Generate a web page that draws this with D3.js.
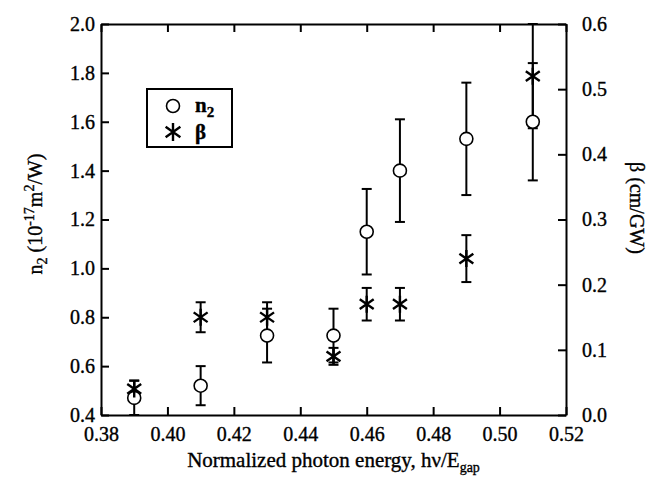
<!DOCTYPE html>
<html>
<head>
<meta charset="utf-8">
<script src="https://d3js.org/d3.v7.min.js"></script>
<style>
  body { margin: 0; background: #fff; }
  svg text { font-family: "Liberation Serif", "Times New Roman", Times, serif; fill: #000; stroke: #000; stroke-width: 0.35px; }
</style>
</head>
<body>
<div id="chart"></div>
<script>
// photon energy (hv/Egap) and the two measured quantities
const energy  = [0.39, 0.41, 0.43, 0.45, 0.46, 0.47, 0.49, 0.51];
const n2      = [0.47, 0.52, 0.725, 0.725, 1.15, 1.40, 1.53, 1.60];
const n2Err   = [0.07, 0.08, 0.11, 0.11, 0.175, 0.21, 0.23, 0.24];
const beta    = [0.04, 0.15, 0.15, 0.09, 0.17, 0.17, 0.24, 0.52];
const betaErr = [0.013, 0.023, 0.023, 0.013, 0.025, 0.025, 0.036, 0.08];

const xTicks = [0.38, 0.40, 0.42, 0.44, 0.46, 0.48, 0.50, 0.52];
const n2Ticks = [0.4, 0.6, 0.8, 1.0, 1.2, 1.4, 1.6, 1.8, 2.0];
const betaTicks = [0.0, 0.1, 0.2, 0.3, 0.4, 0.5, 0.6];

const W = 658, H = 487;
const margin = {top: 24, right: 92, bottom: 72, left: 101};
const width = W - margin.left - margin.right,
      height = H - margin.top - margin.bottom;

const svg = d3.select("#chart").append("svg")
    .attr("width", W)
    .attr("height", H);

const g = svg.append("g")
    .attr("transform", `translate(${margin.left},${margin.top})`);

const x = d3.scaleLinear().domain([0.38, 0.52]).range([0, width]);
const yL = d3.scaleLinear().domain([0.4, 2.0]).range([height, 0]);
const yR = d3.scaleLinear().domain([0, 0.6]).range([height, 0]);

// axes, ticks pointing inward
function styleAxis(sel) {
    sel.attr("font-family", null);
    sel.select(".domain").attr("stroke-width", 2);
    sel.selectAll(".tick line").attr("stroke-width", 2);
    sel.selectAll("text").attr("font-size", 20);
}

g.append("g")
    .attr("transform", `translate(0,${height})`)
    .call(d3.axisBottom(x).tickValues(xTicks).tickFormat(d3.format(".2f"))
        .tickSizeInner(-8).tickSizeOuter(0).tickPadding(12))
    .call(styleAxis);

g.append("g")
    .call(d3.axisTop(x).tickValues(xTicks).tickFormat("")
        .tickSizeInner(-8).tickSizeOuter(0))
    .call(styleAxis);

g.append("g")
    .call(d3.axisLeft(yL).tickValues(n2Ticks).tickFormat(d3.format(".1f"))
        .tickSizeInner(-8).tickSizeOuter(0).tickPadding(6))
    .call(styleAxis);

g.append("g")
    .attr("transform", `translate(${width},0)`)
    .call(d3.axisRight(yR).tickValues(betaTicks).tickFormat(d3.format(".1f"))
        .tickSizeInner(-8).tickSizeOuter(0).tickPadding(16))
    .call(styleAxis);

// error bars
const cap = 5;
function errorBars(vals, errs, y) {
    const lo = y.domain()[0], hi = y.domain()[1];
    const eb = g.append("g").attr("stroke", "#000").attr("stroke-width", 2);
    energy.forEach(function (e, i) {
        const top = Math.min(vals[i] + errs[i], hi);
        const bot = Math.max(vals[i] - errs[i], lo);
        eb.append("line").attr("x1", x(e)).attr("x2", x(e))
            .attr("y1", y(top)).attr("y2", y(bot));
        eb.append("line").attr("x1", x(e) - cap).attr("x2", x(e) + cap)
            .attr("y1", y(top)).attr("y2", y(top));
        eb.append("line").attr("x1", x(e) - cap).attr("x2", x(e) + cap)
            .attr("y1", y(bot)).attr("y2", y(bot));
    });
}
errorBars(n2, n2Err, yL);
errorBars(beta, betaErr, yR);

// star marker: vertical stroke plus two diagonals
function star(sel, cx, cy, r) {
    const d = r * 0.82;
    sel.append("path")
        .attr("d", `M${cx},${cy - r}L${cx},${cy + r}` +
                   `M${cx - d},${cy - d * 0.7}L${cx + d},${cy + d * 0.7}` +
                   `M${cx - d},${cy + d * 0.7}L${cx + d},${cy - d * 0.7}`)
        .attr("stroke", "#000").attr("stroke-width", 2.4).attr("fill", "none");
}

g.selectAll("circle.n2")
    .data(energy)
    .join("circle")
    .attr("class", "n2")
    .attr("cx", d => x(d))
    .attr("cy", (d, i) => yL(n2[i]))
    .attr("r", 6.5)
    .attr("fill", "#fff")
    .attr("stroke", "#000")
    .attr("stroke-width", 1.6);

const stars = g.append("g");
energy.forEach(function (e, i) { star(stars, x(e), yR(beta[i]), 8.5); });

// legend
const lg = svg.append("g").attr("transform", "translate(147,89)");
lg.append("rect").attr("width", 85).attr("height", 58)
    .attr("fill", "#fff").attr("stroke", "#000").attr("stroke-width", 2);
lg.append("circle").attr("cx", 26).attr("cy", 17).attr("r", 6.5)
    .attr("fill", "none").attr("stroke", "#000").attr("stroke-width", 1.6);
star(lg, 26, 43, 9);
const t1 = lg.append("text").attr("x", 48).attr("y", 23).attr("font-size", 21).attr("font-weight", "bold");
t1.append("tspan").text("n");
t1.append("tspan").attr("font-size", 15).attr("dy", 5).text("2");
lg.append("text").attr("x", 48).attr("y", 50).attr("font-size", 21).attr("font-weight", "bold").text("β");

// axis titles
const xt = svg.append("text")
    .attr("x", margin.left + width / 2).attr("y", 467)
    .attr("text-anchor", "middle").attr("font-size", 21);
xt.append("tspan").text("Normalized photon energy, hν/E");
xt.append("tspan").attr("font-size", 14).attr("dy", 5).text("gap");

const yt = svg.append("text")
    .attr("transform", "translate(42,214) rotate(-90)")
    .attr("text-anchor", "middle").attr("font-size", 20);
yt.append("tspan").text("n");
yt.append("tspan").attr("font-size", 14).attr("dy", 5).text("2");
yt.append("tspan").attr("dy", -5).text(" (10");
yt.append("tspan").attr("font-size", 14).attr("dy", -8).text("-17");
yt.append("tspan").attr("dy", 8).text("m");
yt.append("tspan").attr("font-size", 14).attr("dy", -8).text("2");
yt.append("tspan").attr("dy", 8).text("/W)");

svg.append("text")
    .attr("transform", "translate(630,208) rotate(90)")
    .attr("text-anchor", "middle").attr("font-size", 20)
    .text("β (cm/GW)");
</script>
</body>
</html>
